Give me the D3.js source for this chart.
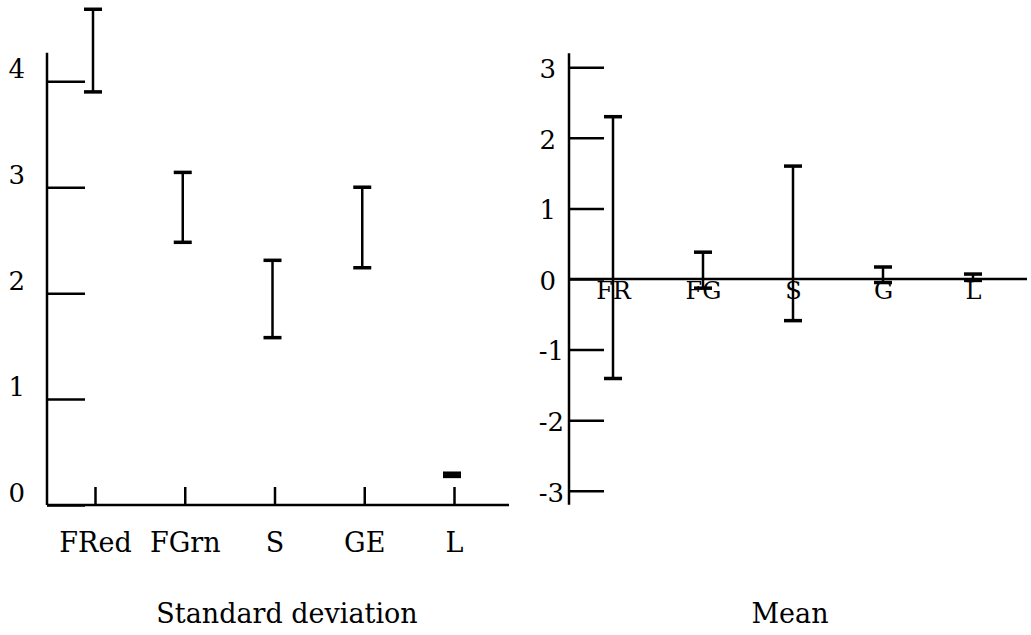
<!DOCTYPE html>
<meta charset="utf-8">
<style>
body { margin: 0; background: #fff; }
text { font-family: "DejaVu Serif", "Liberation Serif", serif; fill: #000; }
.axis line, .axis path { stroke: #000; stroke-width: 2.5; }
.bar { stroke: #000; stroke-width: 2.5; }
.cap { stroke: #000; stroke-width: 3.5; }
</style>
<svg width="1031" height="635"></svg>
<script src="https://d3js.org/d3.v7.min.js"></script>
<script>

// standard deviation panel
var sdCats = ["FRed", "FGrn", "S", "GE", "L"];
var sdLow  = [3.90, 2.48, 1.58, 2.24, 0.27];
var sdHigh = [4.68, 3.14, 2.31, 3.00, 0.30];
var sdTicks = [0, 1, 2, 3, 4];

// mean panel
var meanCats = ["FR", "FG", "S", "G", "L"];
var meanLow  = [-1.41, -0.13, -0.59, -0.05, -0.02];
var meanHigh = [2.30, 0.38, 1.60, 0.17, 0.07];
var meanTicks = [-3, -2, -1, 0, 1, 2, 3];

var svg = d3.select("svg");

function errorBars(g, cats, lo, hi, x, y, shift) {
  var rows = cats.map(function(c, i) { return {c: c, lo: lo[i], hi: hi[i]}; });
  var b = g.append("g").selectAll("g").data(rows).enter().append("g")
      .attr("transform", function(d) { return "translate(" + (x(d.c) + shift) + ",0)"; });
  b.append("line").attr("class", "bar")
      .attr("y1", function(d) { return y(d.hi); })
      .attr("y2", function(d) { return y(d.lo); });
  b.append("line").attr("class", "cap")
      .attr("x1", -9).attr("x2", 9)
      .attr("y1", function(d) { return y(d.hi); })
      .attr("y2", function(d) { return y(d.hi); });
  b.append("line").attr("class", "cap")
      .attr("x1", -9).attr("x2", 9)
      .attr("y1", function(d) { return y(d.lo); })
      .attr("y2", function(d) { return y(d.lo); });
}

// ---- left: standard deviation
var ax0 = 47;
var y1 = d3.scaleLinear().domain([0, 4]).range([505, 81.3]);
var x1 = d3.scalePoint().domain(sdCats).range([95, 454]);

var left = svg.append("g");

left.append("g").attr("class", "axis")
    .attr("transform", "translate(" + ax0 + ",0)")
    .call(d3.axisLeft(y1).tickValues(sdTicks).tickFormat(d3.format("d"))
      .tickSize(-38).tickPadding(22))
    .call(function(g) { g.select(".domain").remove(); })
    .call(function(g) {
      g.selectAll("text").attr("dy", "-0.15em").attr("font-size", 26).attr("font-family", null);
    });
left.append("line")
    .attr("x1", ax0).attr("x2", ax0)
    .attr("y1", y1(0)).attr("y2", y1(4.27))
    .attr("stroke", "#000").attr("stroke-width", 2.5);

left.append("g").attr("class", "axis")
    .attr("transform", "translate(0," + y1(0) + ")")
    .call(d3.axisBottom(x1).tickSize(-18).tickPadding(28))
    .call(function(g) { g.select(".domain").remove(); })
    .call(function(g) { g.selectAll("text").attr("font-size", 27).attr("font-family", null); });
left.append("line")
    .attr("x1", ax0).attr("x2", 509)
    .attr("y1", y1(0)).attr("y2", y1(0))
    .attr("stroke", "#000").attr("stroke-width", 2.5);

errorBars(left, sdCats, sdLow, sdHigh, x1, y1, -2);

left.append("text")
    .attr("x", 287).attr("y", 623)
    .attr("text-anchor", "middle").attr("font-size", 27)
    .text("Standard deviation");

// ---- right: mean
var ax1 = 569;
var y2 = d3.scaleLinear().domain([-3, 3]).range([490.7, 67.3]);
var x2 = d3.scalePoint().domain(meanCats).range([613, 973]);

var right = svg.append("g");

right.append("g").attr("class", "axis")
    .attr("transform", "translate(" + ax1 + ",0)")
    .call(d3.axisLeft(y2).tickValues(meanTicks).tickSize(-35).tickPadding(9))
    .call(function(g) { g.select(".domain").remove(); })
    .call(function(g) {
      g.selectAll("text").attr("dy", "0.4em").attr("font-size", 26).attr("font-family", null)
        .attr("dx", function(d) { return d < 0 ? 4 : -4; })
        .text(function(d) { return d < 0 ? "-" + Math.abs(d) : d; });
    });
right.append("line")
    .attr("x1", ax1).attr("x2", ax1)
    .attr("y1", y2(-3.2)).attr("y2", y2(3.2))
    .attr("stroke", "#000").attr("stroke-width", 2.5);

right.append("line")
    .attr("x1", ax1).attr("x2", 1027)
    .attr("y1", y2(0)).attr("y2", y2(0))
    .attr("stroke", "#000").attr("stroke-width", 2.5);

errorBars(right, meanCats, meanLow, meanHigh, x2, y2, 0);

right.append("g").attr("class", "axis")
    .attr("transform", "translate(0," + y2(0) + ")")
    .call(d3.axisBottom(x2).tickSize(0).tickPadding(3))
    .call(function(g) { g.select(".domain").remove(); })
    .call(function(g) { g.selectAll("text").attr("font-size", 24).attr("font-family", null); });

right.append("text")
    .attr("x", 790).attr("y", 623)
    .attr("text-anchor", "middle").attr("font-size", 27)
    .text("Mean");

</script>
